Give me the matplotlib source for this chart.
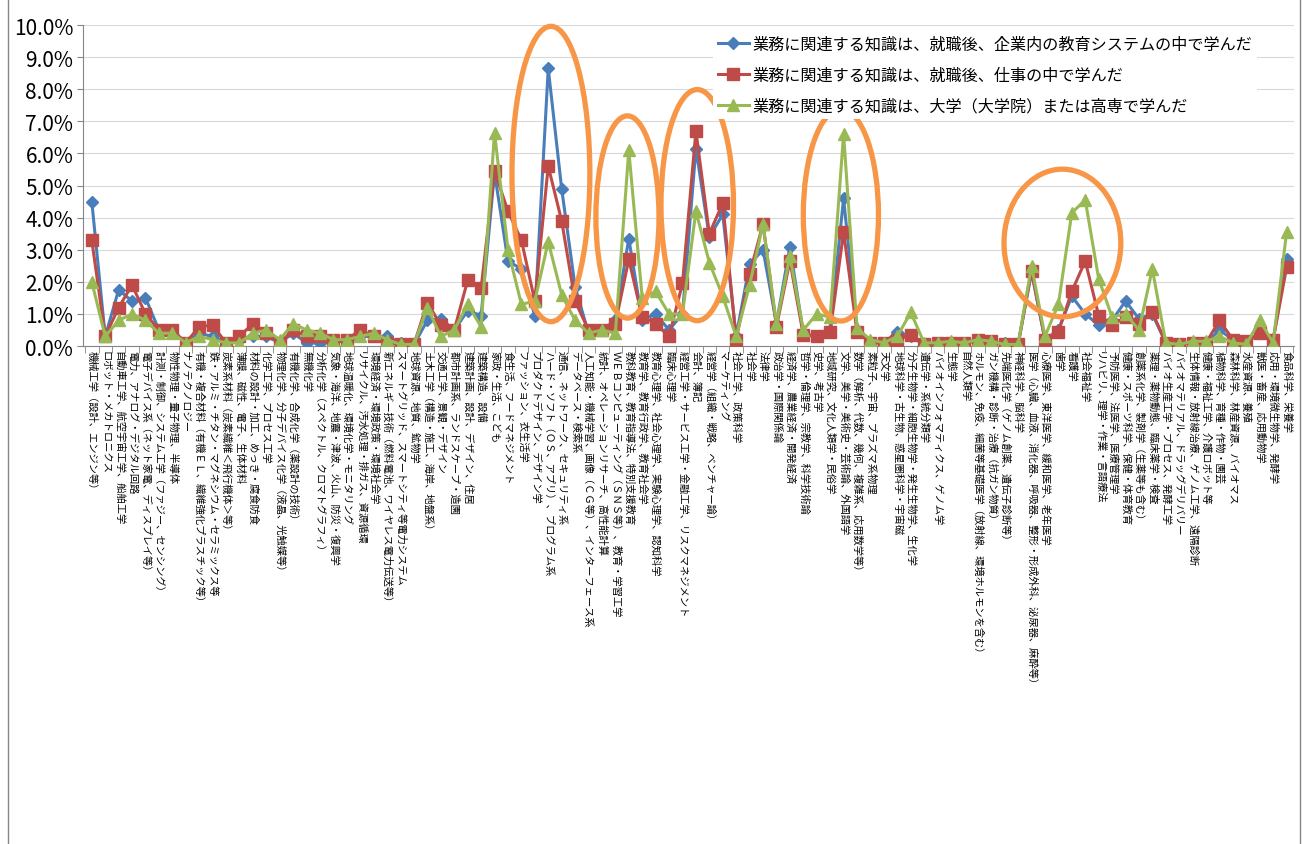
import numpy as np
import matplotlib
matplotlib.use("Agg")
import matplotlib.pyplot as plt
from matplotlib.patches import Ellipse, Rectangle
from matplotlib.ticker import FuncFormatter, FixedLocator

plt.rcParams['font.family'] = ['Noto Sans CJK JP', 'DejaVu Sans']

# 分野名
fields = [
    "機械工学（設計、エンジン等）", "ロボット・メカトロニクス", "自動車工学、航空宇宙工学、船舶工学",
    "電力、アナログ・デジタル回路", "電子デバイス系（ネット家電、ディスプレイ等）",
    "計測・制御、システム工学（ファジー、センシング）", "物性物理・量子物理、半導体", "ナノテクノロジー",
    "有機・複合材料（有機ＥＬ、繊維強化プラスチック等）", "鉄・アルミ・チタン・マグネシウム・セラミックス等",
    "炭素系材料（炭素繊維＜飛行機体＞等）", "薄膜、磁性、電子、生体材料", "材料の設計・加工、めっき・腐食防食",
    "化学工学、プロセス工学", "物理化学、分子デバイス化学（液晶、光触媒等）", "有機化学、合成化学（薬設計の技術）",
    "無機化学", "分析化学（スペクトル、クロマトグラフィ）", "気象・海洋、地震・津波、火山、防災・復興学",
    "地球温暖化、環境化学・モニタリング", "リサイクル、汚水処理・排ガス、資源循環", "環境経済・環境政策・環境社会学",
    "新エネルギー技術（燃料電池、ワイヤレス電力伝送等）", "スマートグリッド、スマートシティ等電力システム",
    "地球資源、地質、鉱物学", "土木工学（構造・施工、海岸、地盤系）", "交通工学、景観・デザイン",
    "都市計画系、ランドスケープ・造園", "建築計画、設計、デザイン、住居", "建築構造、設備", "家政・生活、こども",
    "食生活、フードマネジメント", "ファッション、衣生活学", "プロダクトデザイン、デザイン学",
    "ハード・ソフト（ＯＳ、アプリ）、プログラム系", "通信、ネットワーク、セキュリティ系", "データベース・検索系",
    "人工知能・機械学習、画像（ＣＧ等）、インターフェース系", "統計、オペレーションリサーチ、高性能計算",
    "ＷＥＢコンピューティング（ＳＮＳ等）、教育・学習工学", "教科教育、教育指導法、特別支援教育",
    "教育学、教育行政学、教育社会学", "教育心理学、社会心理学、実験心理学、認知科学", "臨床心理学",
    "経営工学・サービス工学・金融工学、リスクマネジメント", "会計、簿記", "経営学（組織・戦略、ベンチャー論）",
    "マーケティング", "社会工学、政策科学", "社会学", "法律学", "政治学・国際関係論", "経済学、農業経済・開発経済",
    "哲学・倫理学、宗教学、科学技術論", "史学、考古学", "地域研究、文化人類学・民俗学",
    "文学、美学・美術史・芸術論、外国語学", "数学（解析、代数、幾何、複雑系、応用数学等）",
    "素粒子、宇宙、プラズマ系物理", "天文学", "地球科学・古生物、惑星圏科学・宇宙磁",
    "分子生物学・細胞生物学・発生生物学、生化学", "遺伝学・系統分類学", "バイオインフォマティクス、ゲノム学",
    "生態学", "自然人類学", "ホルモン、免疫、細菌等基礎医学（放射線、環境ホルモンを含む）",
    "ガン機構・診断・治療（抗ガン物質）", "先端医化学（ゲノム創薬、遺伝子診断等）", "神経科学、脳科学",
    "医学（心臓、血液、消化器、呼吸器、整形・形成外科、泌尿器、麻酔等）", "心療医学、東洋医学、緩和医学、老年医学",
    "歯学", "看護学", "社会福祉学", "リハビリ、理学・作業・言語療法", "予防医学、法医学、医療管理学",
    "健康・スポーツ科学、保健・体育教育", "創薬系化学、製剤学（生薬等も含む）", "薬理・薬物動態、臨床薬学・検査",
    "バイオ生産工学・プロセス、発酵工学", "バイオマテリアル、ドラッグデリバリー",
    "生体情報・放射線治療、ゲノム工学、遠隔診断", "健康・福祉工学、介護ロボット等", "植物科学、育種・作物・園芸",
    "森林科学、林産資源、バイオマス", "水産資源、養殖", "獣医・畜産、応用動物学", "応用・環境微生物学、発酵学",
    "食品科学、栄養学",
]

# 割合（%）
in_company = [
    4.5, 0.3, 1.75, 1.4, 1.5, 0.5, 0.5, 0.1, 0.4, 0.3,
    0.1, 0.2, 0.3, 0.3, 0.1, 0.4, 0.1, 0.1, 0.2, 0.1,
    0.3, 0.3, 0.3, 0.1, 0.05, 0.8, 0.85, 0.5, 1.1, 0.95,
    5.4, 2.65, 2.4, 0.95, 8.65, 4.9, 1.85, 0.4, 0.5, 0.8,
    3.35, 0.8, 1.0, 0.5, 1.0, 6.15, 3.4, 4.1, 0.3, 2.55,
    3.0, 0.7, 3.1, 0.4, 0.3, 0.5, 4.6, 0.5, 0.1, 0.1,
    0.45, 0.3, 0.05, 0.05, 0.1, 0.1, 0.15, 0.1, 0.1, 0.05,
    2.3, 0.2, 0.5, 1.55, 1.0, 0.65, 0.8, 1.4, 0.85, 1.0,
    0.1, 0.05, 0.1, 0.1, 0.5, 0.2, 0.1, 0.4, 0.2, 2.7,
]
on_the_job = [
    3.3, 0.3, 1.2, 1.9, 1.0, 0.5, 0.5, 0.1, 0.6, 0.65,
    0.1, 0.3, 0.7, 0.4, 0.1, 0.5, 0.3, 0.3, 0.2, 0.2,
    0.5, 0.3, 0.1, 0.05, 0.05, 1.35, 0.65, 0.5, 2.05, 1.8,
    5.45, 4.2, 3.3, 1.4, 5.6, 3.9, 1.4, 0.5, 0.5, 0.7,
    2.7, 0.9, 0.7, 0.3, 1.95, 6.7, 3.5, 4.45, 0.2, 2.25,
    3.8, 0.6, 2.65, 0.35, 0.3, 0.45, 3.55, 0.45, 0.1, 0.1,
    0.2, 0.35, 0.05, 0.1, 0.1, 0.1, 0.2, 0.15, 0.05, 0.05,
    2.35, 0.2, 0.45, 1.7, 2.65, 0.95, 0.65, 0.9, 0.7, 1.05,
    0.1, 0.05, 0.1, 0.1, 0.8, 0.2, 0.15, 0.4, 0.2, 2.45,
]
at_university = [
    2.0, 0.3, 0.8, 1.0, 0.8, 0.4, 0.4, 0.1, 0.3, 0.2,
    0.1, 0.1, 0.4, 0.5, 0.2, 0.7, 0.5, 0.4, 0.2, 0.2,
    0.3, 0.4, 0.2, 0.05, 0.05, 1.2, 0.3, 0.5, 1.3, 0.6,
    6.65, 3.0, 1.3, 1.4, 3.25, 1.6, 0.8, 0.4, 0.5, 0.4,
    6.1, 1.5, 1.7, 1.0, 1.0, 4.2, 2.6, 1.55, 0.3, 1.9,
    3.8, 0.7, 2.8, 0.5, 1.0, 0.9, 6.6, 0.55, 0.2, 0.1,
    0.3, 1.05, 0.1, 0.1, 0.15, 0.1, 0.2, 0.15, 0.05, 0.05,
    2.5, 0.3, 1.3, 4.15, 4.55, 2.1, 0.9, 1.0, 0.5, 2.4,
    0.1, 0.05, 0.15, 0.15, 0.3, 0.1, 0.05, 0.8, 0.1, 3.55,
]

series_labels = [
    "業務に関連する知識は、就職後、企業内の教育システムの中で学んだ",
    "業務に関連する知識は、就職後、仕事の中で学んだ",
    "業務に関連する知識は、大学（大学院）または高専で学んだ",
]

fig = plt.figure(figsize=(13.06, 8.45), dpi=100)
ax = fig.add_axes([0.0636, 0.5893, 0.9272, 0.3799])

x = np.arange(len(fields))
ax.plot(x, in_company, color="#4A7EBB", lw=2.2, marker="D", ms=6,
        label=series_labels[0], zorder=3)
ax.plot(x, on_the_job, color="#BE4B48", lw=2.2, marker="s", ms=8,
        label=series_labels[1], zorder=4)
ax.plot(x, at_university, color="#98B954", lw=2.2, marker="^", ms=9,
        label=series_labels[2], zorder=5)

# 注目箇所の楕円 (中心のカテゴリ位置, 中心%, 幅, 高さ)
highlights = [(34.2, 5.36, 5.8, 9.2), (39.9, 4.02, 4.7, 6.3), (45.1, 4.39, 5.4, 7.2),
              (55.8, 4.08, 5.6, 6.6), (72.3, 3.21, 8.7, 4.6)]
for cx, cy, w, h in highlights:
    ax.add_patch(Ellipse((cx, cy), w, h, fill=False, ec="#F79646", lw=3.8,
                         zorder=6, clip_on=False))

ax.set_xlim(-0.65, len(fields) - 0.45)
ax.set_ylim(0, 10)
ax.set_yticks(np.arange(0, 10.01, 1))
ax.yaxis.set_major_formatter(FuncFormatter(lambda v, p: f"{v:.1f}%"))
ax.tick_params(axis="y", labelsize=15, length=4, color="#868686", pad=3)

ax.set_xticks(x)
ax.set_xticklabels(fields, rotation=-90, fontsize=7.4, ha="center", va="top")
ax.xaxis.set_minor_locator(FixedLocator(np.arange(len(fields) + 1) - 0.5))
ax.tick_params(axis="x", which="major", length=0, pad=3)
ax.tick_params(axis="x", which="minor", length=5, color="#868686")

ax.grid(axis="y", color="#D9D9D9", lw=0.8)
ax.set_axisbelow(True)
for side in ["top", "right"]:
    ax.spines[side].set_visible(False)
for side in ["left", "bottom"]:
    ax.spines[side].set_color("#868686")

leg = ax.legend(loc="upper left", bbox_to_anchor=(705 / 1306, 1 - 24 / 845),
                bbox_transform=fig.transFigure, fontsize=11.6, frameon=True,
                handlelength=1.9, labelspacing=0.86, borderpad=0.3, handletextpad=0.25)
leg.get_frame().set_edgecolor("none")
leg.get_frame().set_facecolor("white")
leg.get_frame().set_alpha(1)
leg.set_zorder(10)

# グラフ枠
fig.patches.append(Rectangle((8 / 1306, -0.01), 1 - 14 / 1306, 1.02, transform=fig.transFigure,
                             fill=False, ec="#868686", lw=1))

fig.savefig("out.png", dpi=100)
